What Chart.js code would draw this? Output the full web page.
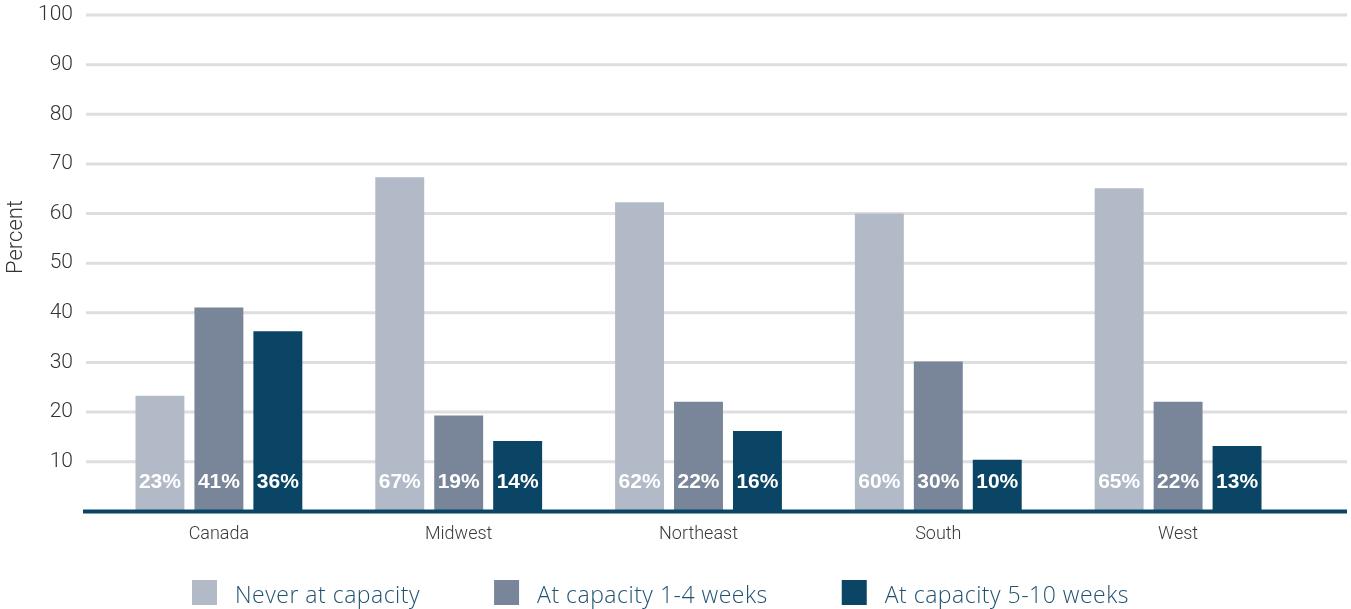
<!DOCTYPE html>
<html>
<head>
<meta charset="utf-8">
<script src="https://cdn.jsdelivr.net/npm/chart.js@4.4.1/dist/chart.umd.min.js"></script>
<style>
  html, body { margin: 0; padding: 0; background: #fff; }
  #wrap { width: 1351px; height: 609px; position: relative; }
</style>
</head>
<body>
<div id="wrap"><canvas id="myChart"></canvas></div>
<script>
var regions = ['Canada', 'Midwest', 'Northeast', 'South', 'West'];
var neverAtCapacity = [23.3, 67.3, 62.3, 60.0, 65.1];
var capacity1to4 = [41.1, 19.3, 22.1, 30.2, 22.1];
var capacity5to10 = [36.3, 14.2, 16.2, 10.4, 13.2];
var seriesNames = ['Never at capacity', 'At capacity 1-4 weeks', 'At capacity 5-10 weeks'];
var yTicks = [10, 20, 30, 40, 50, 60, 70, 80, 90, 100];

var colors = ['#b3bac7', '#798699', '#0b4566'];

// grid lines and the base line run wider than the plot area
var gridPlugin = {
    id: 'wideGrid',
    beforeDatasetsDraw: function (chart) {
        var ctx = chart.ctx;
        var y = chart.scales.y;
        ctx.save();
        ctx.strokeStyle = '#dedede';
        ctx.lineWidth = 3;
        yTicks.forEach(function (t) {
            var py = y.getPixelForValue(t);
            ctx.beginPath();
            ctx.moveTo(86, py);
            ctx.lineTo(1347, py);
            ctx.stroke();
        });
        // axis title
        ctx.save();
        ctx.translate(16, 237);
        ctx.rotate(-Math.PI / 2);
        ctx.fillStyle = '#333';
        ctx.font = '300 22px Roboto, sans-serif';
        ctx.textAlign = 'center';
        ctx.textBaseline = 'middle';
        ctx.fillText('Percent', 0, 0);
        ctx.restore();
        ctx.restore();
    },
    afterDatasetsDraw: function (chart) {
        var ctx = chart.ctx;
        var y = chart.scales.y;
        ctx.save();
        // base line
        ctx.strokeStyle = '#0b4566';
        ctx.lineWidth = 4;
        var py0 = y.getPixelForValue(0);
        ctx.beginPath();
        ctx.moveTo(83, py0);
        ctx.lineTo(1347, py0);
        ctx.stroke();
        // percent labels at the foot of each bar
        ctx.fillStyle = '#ffffff';
        ctx.font = 'bold 21px "Liberation Sans", Arial, sans-serif';
        ctx.textAlign = 'center';
        ctx.textBaseline = 'middle';
        chart.data.datasets.forEach(function (ds, i) {
            chart.getDatasetMeta(i).data.forEach(function (bar, j) {
                ctx.fillText(Math.round(ds.data[j]) + '%', bar.x, py0 - 29);
            });
        });
        ctx.restore();
    }
};

// legend row under the chart
var legendPlugin = {
    id: 'bottomLegend',
    afterDraw: function (chart) {
        var ctx = chart.ctx;
        ctx.save();
        ctx.font = '300 23px "Open Sans", sans-serif';
        ctx.letterSpacing = '0.5px';
        ctx.textBaseline = 'alphabetic';
        ctx.textAlign = 'left';
        var x = 192;
        chart.data.datasets.forEach(function (ds) {
            ctx.fillStyle = ds.backgroundColor;
            ctx.fillRect(x, 580, 25, 25);
            ctx.fillStyle = '#1f5272';
            ctx.fillText(ds.label, x + 43, 603);
            x += 43 + ctx.measureText(ds.label).width + 74;
        });
        ctx.restore();
    }
};

new Chart(document.getElementById('myChart'), {
    type: 'bar',
    data: {
        labels: regions,
        datasets: [
            { label: seriesNames[0], data: neverAtCapacity, backgroundColor: colors[0] },
            { label: seriesNames[1], data: capacity1to4, backgroundColor: colors[1] },
            { label: seriesNames[2], data: capacity5to10, backgroundColor: colors[2] }
        ]
    },
    options: {
        responsive: true,
        maintainAspectRatio: false,
        animation: false,
        categoryPercentage: 0.7375,
        barPercentage: 0.83,
        layout: { padding: { left: 0, right: 53, top: 15, bottom: 52 } },
        plugins: {
            tooltip: { enabled: false },
            legend: { display: false }
        },
        scales: {
            x: {
                grid: { display: false, drawTicks: false },
                border: { display: false },
                ticks: {
                    color: '#3a3a3a',
                    padding: 12,
                    font: { family: 'Roboto, sans-serif', size: 18, weight: 300 }
                }
            },
            y: {
                min: 0,
                max: 100,
                afterFit: function (scale) {
                    scale.width = 99;
                    scale.paddingTop = 0;
                    scale.paddingBottom = 0;
                },
                grid: { display: false, drawTicks: false },
                border: { display: false },
                ticks: {
                    stepSize: 10,
                    padding: 26,
                    color: '#333',
                    font: { family: 'Roboto, sans-serif', size: 21, weight: 300 },
                    callback: function (v) { return v === 0 ? '' : v; }
                }
            }
        }
    },
    plugins: [gridPlugin, legendPlugin]
});
</script>
</body>
</html>
